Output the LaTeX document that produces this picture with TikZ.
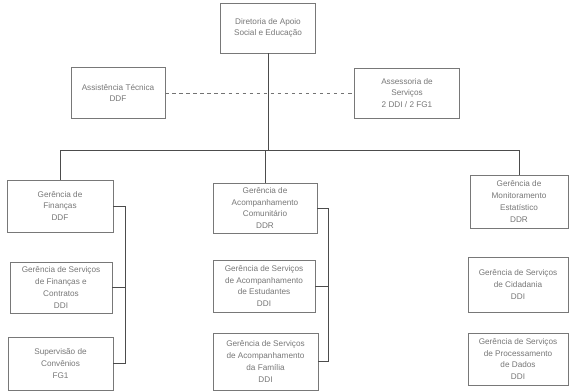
\documentclass[tikz,border=0pt]{standalone}
\usepackage{fontspec}
\setmainfont{Liberation Sans}
\usetikzlibrary{positioning}
\definecolor{scangray}{RGB}{120,120,120}
\tikzset{
  org box/.style={
    rectangle, draw=scangray, thin, fill=white, text=scangray,
    align=center, inner sep=2pt, font=\fontsize{7}{10}\selectfont
  },
  org line/.style={draw=black!70, thin},
  staff line/.style={draw=black!55, thin, dashed}
}

\begin{document}
\begin{tikzpicture}[x=0.03cm, y=-0.03cm]
    \useasboundingbox (0,0) rectangle (571,391);
    % top level and staff
    \node[org box, minimum width=95*0.03cm, minimum height=50*0.03cm] (dir) at (268,28) {Diretoria de Apoio\\Social e Educação};
    \node[org box, minimum width=94*0.03cm, minimum height=51*0.03cm] (asstec) at (118,93) {Assistência Técnica\\DDF};
    \node[org box, minimum width=105*0.03cm, minimum height=50*0.03cm] (asser) at (407,93) {Assessoria de\\Serviços\\2 DDI / 2 FG1};
    % gerencias
    \node[org box, minimum width=106*0.03cm, minimum height=52*0.03cm] (gfin) at (60,206) {Gerência de\\Finanças\\DDF};
    \node[org box, minimum width=104*0.03cm, minimum height=50*0.03cm] (gacc) at (265,208) {Gerência de\\Acompanhamento\\Comunitário\\DDR};
    \node[org box, minimum width=98*0.03cm, minimum height=53*0.03cm] (gmon) at (519,201.5) {Gerência de\\Monitoramento\\Estatístico\\DDR};
    % servicos
    \node[org box, minimum width=102*0.03cm, minimum height=51*0.03cm] (gsfc) at (61,287.5) {Gerência de Serviços\\de Finanças e\\Contratos\\DDI};
    \node[org box, minimum width=105*0.03cm, minimum height=53*0.03cm] (supc) at (60.5,363.5) {Supervisão de\\Convênios\\FG1};
    \node[org box, minimum width=102*0.03cm, minimum height=52*0.03cm] (gsae) at (264,286) {Gerência de Serviços\\de Acompanhamento\\de Estudantes\\DDI};
    \node[org box, minimum width=105*0.03cm, minimum height=57*0.03cm] (gsaf) at (265.5,361.5) {Gerência de Serviços\\de Acompanhamento\\da Família\\DDI};
    \node[org box, minimum width=100*0.03cm, minimum height=55*0.03cm] (gscid) at (518,284.5) {Gerência de Serviços\\de Cidadania\\DDI};
    \node[org box, minimum width=100*0.03cm, minimum height=52*0.03cm] (gspd) at (518,359) {Gerência de Serviços\\de Processamento\\de Dados\\DDI};
    \coordinate (bus) at (0,150);
    \coordinate (lcol) at (125,0);
    \coordinate (mcol) at (328,0);
    \draw[staff line] (asstec.east) -- (asser.west);
    \draw[org line] (dir.south) -- (dir.south |- bus);
    \draw[org line] (gfin.north) -- (gfin.north |- bus) -- (gmon.north |- bus) -- (gmon.north);
    \draw[org line] (gacc.north) -- (gacc.north |- bus);
    \draw[org line] (gfin.east) -- (gfin.east -| lcol) -- (supc.east -| lcol) -- (supc.east);
    \draw[org line] (gsfc.east) -- (gsfc.east -| lcol);
    \draw[org line] (gacc.east) -- (gacc.east -| mcol) -- (gsaf.east -| mcol) -- (gsaf.east);
    \draw[org line] (gsae.east) -- (gsae.east -| mcol);
  \end{tikzpicture}
\end{document}
